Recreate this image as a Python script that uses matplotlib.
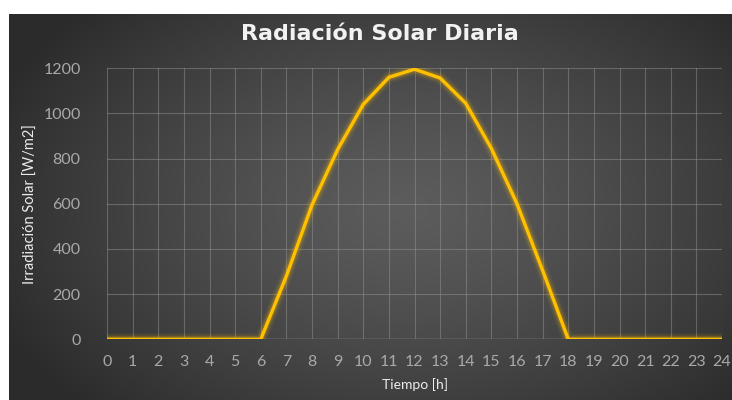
import numpy as np
import matplotlib
matplotlib.use("Agg")
import matplotlib.pyplot as plt

hours = list(range(25))
irradiance = [0, 0, 0, 0, 0, 0, 0, 280, 595, 840, 1040, 1160, 1196, 1157, 1045, 845,
              600, 305, 0, 0, 0, 0, 0, 0, 0]
y_ticks = [0, 200, 400, 600, 800, 1000, 1200]

title = "Radiación Solar Diaria"
xlabel = "Tiempo [h]"
ylabel = "Irradiación Solar [W/m2]"

W, H = 732, 400
fig = plt.figure(figsize=(W / 100, H / 100), dpi=100, facecolor="white")

# background panel with radial gradient
bg = fig.add_axes([9 / W, 0, 1 - 9 / W, (H - 14) / H])
bg.set_axis_off()
ny, nx = 386, 723
yy, xx = np.mgrid[0:ny, 0:nx]
cx, cy = nx * 0.55, ny * 0.5
r = np.sqrt(((xx - cx) / (nx * 0.62)) ** 2 + ((yy - cy) / (ny * 0.75)) ** 2)
r = np.clip(r, 0, 1)
center, edge = 0x5c / 255, 0x2b / 255
val = center + (edge - center) * r ** 1.3
img = np.dstack([val, val, val])
bg.imshow(img, aspect="auto", extent=[0, 1, 0, 1], interpolation="bilinear")
bg.set_xlim(0, 1)
bg.set_ylim(0, 1)

ax = fig.add_axes([107 / W, 1 - 339.3 / H, (722 - 107) / W, (339.3 - 68.3) / H])
ax.patch.set_alpha(0)
for s in ax.spines.values():
    s.set_visible(False)

ax.set_xlim(0, 24)
ax.set_ylim(0, 1200)
ax.set_xticks(hours)
ax.set_yticks(y_ticks)
ax.grid(True, color="#9a9a9a", alpha=0.45, linewidth=0.8)
ax.set_axisbelow(True)
ax.axhline(0, color="#a8a8a8", linewidth=1.0, alpha=0.8)
ax.tick_params(length=0, colors="#a9a9a9", labelsize=11.5)
ax.tick_params(axis="y", pad=19)
ax.tick_params(axis="x", pad=11)
for lab in ax.get_xticklabels() + ax.get_yticklabels():
    lab.set_fontfamily("Lato")

# glow
for lw, a in [(9, 0.06), (6.5, 0.1), (4.5, 0.18)]:
    ax.plot(hours, irradiance, color="#FFC000", linewidth=lw, alpha=a,
            solid_joinstyle="round", solid_capstyle="round")
ax.plot(hours, irradiance, color="#FFC000", linewidth=2.4, solid_joinstyle="miter")

ax.set_xlabel(xlabel, color="#ececec", fontsize=10, fontfamily="Lato", labelpad=7)
ax.set_ylabel(ylabel, color="#ececec", fontsize=10.5, fontfamily="Lato", labelpad=4)

fig.text(380 / W, 1 - 34 / H, title, color="#f2f2f2", fontsize=16, fontweight="bold",
         fontfamily="DejaVu Sans", ha="center", va="center")

fig.savefig("out.png", dpi=100, facecolor="white")
